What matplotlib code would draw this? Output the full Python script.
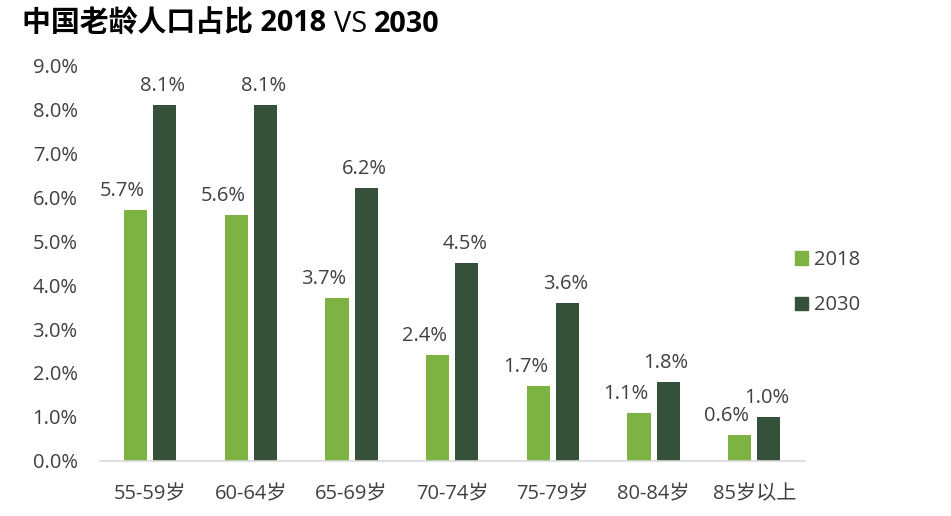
import matplotlib
matplotlib.use("Agg")
import matplotlib.pyplot as plt
import numpy as np
from matplotlib.patches import Patch

FAM = ['Open Sans', 'Noto Sans CJK SC', 'DejaVu Sans']
plt.rcParams['font.family'] = FAM

categories = ["55-59岁", "60-64岁", "65-69岁", "70-74岁", "75-79岁", "80-84岁", "85岁以上"]
vals_2018 = [5.7, 5.6, 3.7, 2.4, 1.7, 1.1, 0.6]
vals_2030 = [8.1, 8.1, 6.2, 4.5, 3.6, 1.8, 1.0]
series_names = ["2018", "2030"]
yticks = [0, 1, 2, 3, 4, 5, 6, 7, 8, 9]

c_light = "#7db343"
c_dark = "#36513a"
txt = "#404040"
fs = 14.5

fig = plt.figure(figsize=(9.51, 5.16), dpi=100)
ax = fig.add_axes([0.105, 0.1066, 0.741, 0.7674])

x = np.arange(len(categories))
w = 0.23
off = 0.145
b1 = ax.bar(x - off, vals_2018, w, color=c_light)
b2 = ax.bar(x + off, vals_2030, w, color=c_dark)

for bars, vals, dx in ((b1, vals_2018, -13), (b2, vals_2030, -2)):
    for b, v in zip(bars, vals):
        ax.annotate(f"{v:.1f}%", (b.get_x() + b.get_width() / 2, v),
                    xytext=(dx, 9), textcoords="offset pixels",
                    ha="center", va="bottom", fontsize=fs, color=txt)

ax.set_xlim(-0.5, len(categories) - 0.5)
ax.set_ylim(0, 9)
ax.set_yticks(yticks)
ax.set_yticklabels([f"{t:.1f}%" for t in yticks])
ax.set_xticks(x)
ax.set_xticklabels(categories)
ax.tick_params(axis="both", length=0, labelsize=fs, colors=txt)
ax.tick_params(axis="x", pad=17)
ax.tick_params(axis="y", pad=16)
for s in ["top", "right", "left"]:
    ax.spines[s].set_visible(False)
ax.spines["bottom"].set_color("#d9d9d9")
ax.spines["bottom"].set_linewidth(1.2)

handles = [Patch(color=c_light), Patch(color=c_dark)]
fig.legend(handles, series_names, loc="center left", bbox_to_anchor=(0.817, 0.452),
           frameon=False, fontsize=fs, labelcolor=txt, handlelength=0.65,
           handleheight=0.65, handletextpad=0.3, labelspacing=1.25)

# title in pieces, laid out side by side
r = fig.canvas.get_renderer()
xpos = 22
parts = [("中国老龄人口占比 2018 ", "bold"), ("VS ", "normal"), ("2030", "bold")]
for s, wt in parts:
    t = fig.text(xpos / 951, 1 - 24 / 516, s, fontsize=20.8, fontweight=wt,
                 color="black", va="center", ha="left")
    bb = t.get_window_extent(renderer=r)
    xpos += bb.width

fig.savefig("out.png", dpi=100)
